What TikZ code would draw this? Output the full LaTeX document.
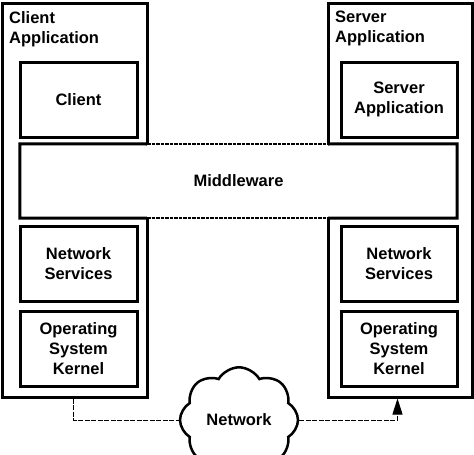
\documentclass[tikz,border=0pt]{standalone}
\usepackage{fontspec}
\setmainfont{Liberation Sans}
\usetikzlibrary{shapes.symbols,arrows.meta}
\begin{document}
\begin{tikzpicture}[x=1pt,y=-1pt,
		font=\fontsize{16.5}{20}\selectfont\bfseries,
		box/.style={draw=black, line width=3pt, fill=white, align=center, inner sep=0pt},
		appbox/.style={draw=black, line width=3pt, inner sep=0pt},
		lbl/.style={anchor=north west, align=left, inner sep=0pt},
		link/.style={line width=1pt, dash pattern=on 5pt off 1.5pt},
		gap/.style={line width=2.6pt, dash pattern=on 3.5pt off 1pt}]
		
		\useasboundingbox (0,0) rectangle (474,455);
		\clip (0,0) rectangle (474,455);
		
		% Outer application boxes
		\node[appbox, minimum width=145pt, minimum height=394pt] (leftapp) at (74.5,200) {};
		\node[lbl] (lefttitle) at (9,11) {Client\\Application};
		
		\node[appbox, minimum width=144pt, minimum height=394pt] (rightapp) at (400,200) {};
		\node[lbl] (righttitle) at (335,11) {Server\\Application};
		
		% Middleware spans both applications
		\node[fill=white, minimum width=437pt, minimum height=74pt, inner sep=0pt] (mw) at (238.5,181) {Middleware};
		\draw[line width=3pt] (147,144) -- (mw.north west) -- (mw.south west) -- (147,218);
		\draw[line width=3pt] (328,144) -- (mw.north east) -- (mw.south east) -- (328,218);
		\draw[gap] (147,144) -- (328,144);
		\draw[gap] (147,218) -- (328,218);
		
		% Inner layers
		\node[box, minimum width=117pt, minimum height=75pt] (client) at (78.5,99.5) {Client};
		\node[box, minimum width=116pt, minimum height=75pt] (sapp) at (399,99.5) {Server\\Application};
		\node[box, minimum width=117pt, minimum height=75pt] (lnet) at (78.5,263.5) {Network\\Services};
		\node[box, minimum width=116pt, minimum height=75pt] (rnet) at (399,263.5) {Network\\Services};
		\node[box, minimum width=117pt, minimum height=75pt] (los) at (78.5,348.5) {Operating\\System\\Kernel};
		\node[box, minimum width=116pt, minimum height=75pt] (ros) at (399,348.5) {Operating\\System\\Kernel};
		
		% Network cloud
		\node[cloud, cloud puffs=8, cloud puff arc=120, draw=black, line width=2.5pt, fill=white,
			minimum width=118pt, minimum height=74pt, inner sep=0pt] (net) at (239,420) {Network};
		
		% Connection through the network
		\draw[link] ([xshift=73pt]leftapp.south west) |- (net.west);
		\draw[link, -{Triangle[length=16pt, width=10pt]}] (net.east) -| ([xshift=71pt]rightapp.south west);
	\end{tikzpicture}
\end{document}
